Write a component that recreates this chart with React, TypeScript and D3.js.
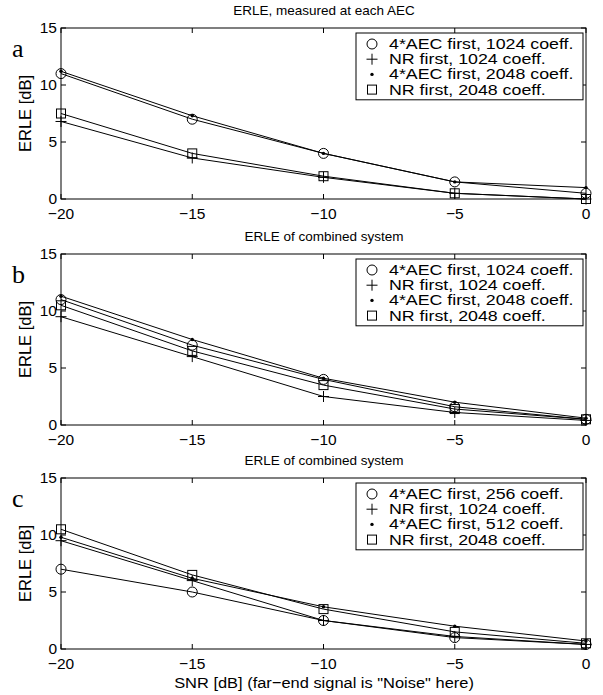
import React from 'react';
import * as d3 from 'd3';

// SNR values on the x axis
const snr = [-20, -15, -10, -5, 0];
const xTicks = [-20, -15, -10, -5, 0];
const yTicks = [0, 5, 10, 15];

// panel a: ERLE measured at each AEC
const aCircle = [11, 7, 4, 1.5, 0.5];
const aPlus = [6.8, 3.6, 1.9, 0.5, 0.0];
const aDot = [11.2, 7.3, 4.0, 1.5, 1.0];
const aSquare = [7.5, 4.0, 2.0, 0.5, 0.0];

// panel b: combined system
const bCircle = [11, 7, 4, 1.6, 0.5];
const bPlus = [9.5, 6.0, 2.5, 1.1, 0.4];
const bDot = [11.3, 7.5, 4.1, 2.0, 0.6];
const bSquare = [10.5, 6.5, 3.5, 1.4, 0.5];

// panel c: combined system, other coefficient counts
const cCircle = [7, 5, 2.5, 1.0, 0.4];
const cPlus = [9.5, 6.0, 2.5, 1.1, 0.4];
const cDot = [9.8, 6.2, 3.7, 2.0, 0.7];
const cSquare = [10.5, 6.5, 3.5, 1.5, 0.5];

const legendAB = ['4*AEC first, 1024 coeff.', 'NR first, 1024 coeff.', '4*AEC first, 2048 coeff.', 'NR first, 2048 coeff.'];
const legendC = ['4*AEC first, 256 coeff.', 'NR first, 1024 coeff.', '4*AEC first, 512 coeff.', 'NR first, 2048 coeff.'];

const markers = ['circle', 'plus', 'dot', 'square'];

const panels = [
  { letter: 'a', title: 'ERLE, measured at each AEC', series: [aCircle, aPlus, aDot, aSquare], legend: legendAB, top: 28 },
  { letter: 'b', title: 'ERLE of combined system', series: [bCircle, bPlus, bDot, bSquare], legend: legendAB, top: 254 },
  { letter: 'c', title: 'ERLE of combined system', series: [cCircle, cPlus, cDot, cSquare], legend: legendC, top: 478 },
];

const W = 603;
const H = 695;
const left = 61;
const right = 586;
const ph = 171;
const font = 'Liberation Sans, Arial, sans-serif';

function Marker({ type, x, y }: { type: string; x: number; y: number }) {
  if (type === 'circle') return <circle cx={x} cy={y} r={5} fill="none" stroke="#000" strokeWidth={1} />;
  if (type === 'plus')
    return (
      <path d={`M${x - 5.5},${y}H${x + 5.5}M${x},${y - 5.5}V${y + 5.5}`} stroke="#000" strokeWidth={1} fill="none" />
    );
  if (type === 'dot') return <circle cx={x} cy={y} r={1.7} fill="#000" />;
  return <rect x={x - 4.5} y={y - 4.5} width={9} height={9} fill="none" stroke="#000" strokeWidth={1} />;
}

function Panel({ p, last }: { p: any; last: boolean }) {
  const x = d3.scaleLinear().domain([-20, 0]).range([left, right]);
  const y = d3.scaleLinear().domain([0, 15]).range([p.top + ph, p.top]);
  const line = d3
    .line<number>()
    .x((_, i) => x(snr[i]))
    .y((d) => y(d));
  const tl = 5;
  const lx = 356;
  const ly = p.top + 5;
  const rowH = 15.2;
  return (
    <g>
      <text x={324} y={p.top - 13} textAnchor="middle" fontFamily={font} fontSize={13.5}>
        {p.title}
      </text>
      <text x={12} y={p.top + 29} fontFamily="Liberation Serif, Times New Roman, serif" fontSize={26}>
        {p.letter}
      </text>
      <rect x={left} y={p.top} width={right - left} height={ph} fill="#fff" stroke="#000" strokeWidth={1} />
      {xTicks.map((t) => (
        <g key={'x' + t}>
          <line x1={x(t)} x2={x(t)} y1={p.top + ph} y2={p.top + ph - tl} stroke="#000" />
          <line x1={x(t)} x2={x(t)} y1={p.top} y2={p.top + tl} stroke="#000" />
          <text x={x(t)} y={p.top + ph + 20} textAnchor="middle" fontFamily={font} fontSize={15.5}>
            {t < 0 ? '\u2212' + Math.abs(t) : t}
          </text>
        </g>
      ))}
      {yTicks.map((t) => (
        <g key={'y' + t}>
          <line x1={left} x2={left + tl} y1={y(t)} y2={y(t)} stroke="#000" />
          <line x1={right} x2={right - tl} y1={y(t)} y2={y(t)} stroke="#000" />
          <text x={left - 4} y={y(t) + 4.5} textAnchor="end" fontFamily={font} fontSize={15.5}>
            {t}
          </text>
        </g>
      ))}
      <text
        transform={`translate(31,${p.top + ph / 2}) rotate(-90)`}
        textAnchor="middle"
        fontFamily={font}
        fontSize={16.5}
      >
        ERLE [dB]
      </text>
      {p.series.map((s: number[], i: number) => (
        <g key={'s' + i}>
          <path d={line(s) || ''} fill="none" stroke="#000" strokeWidth={1} />
          {s.map((v, j) => (
            <Marker key={j} type={markers[i]} x={x(snr[j])} y={y(v)} />
          ))}
        </g>
      ))}
      <rect x={lx} y={ly} width={227} height={4 * rowH + 6} fill="#fff" stroke="#000" strokeWidth={1} />
      {p.legend.map((label: string, i: number) => (
        <g key={'l' + i}>
          <Marker type={markers[i]} x={lx + 16} y={ly + 11 + i * rowH} />
          <text
            transform={`translate(${lx + 33},${ly + 16 + i * rowH}) scale(1.27,1)`}
            fontFamily={font}
            fontSize={14}
          >
            {label}
          </text>
        </g>
      ))}
      {last && (
        <text
          transform={`translate(324,${p.top + ph + 39}) scale(1.06,1)`}
          textAnchor="middle"
          fontFamily={font}
          fontSize={15.5}
        >
          SNR [dB] (far{'\u2212'}end signal is "Noise" here)
        </text>
      )}
    </g>
  );
}

export default function App() {
  return (
    <svg width={W} height={H} style={{ position: 'absolute', left: 0, top: 0 }}>
      <rect width={W} height={H} fill="#fff" />
      {panels.map((p, i) => (
        <Panel key={p.letter} p={p} last={i === panels.length - 1} />
      ))}
    </svg>
  );
}
